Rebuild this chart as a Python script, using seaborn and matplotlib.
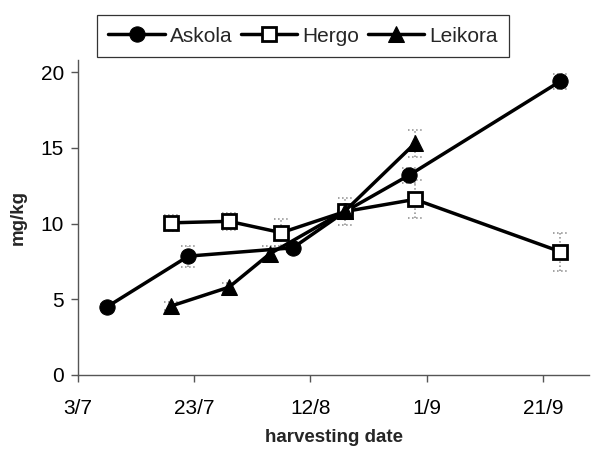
import matplotlib
matplotlib.use("Agg")
import matplotlib.pyplot as plt
import seaborn as sns
import pandas as pd

sns.set_theme(style="white")
plt.rcParams["font.family"] = ["Liberation Sans", "DejaVu Sans"]

# Harvest dates and contents (mg/kg) for the three varieties
askola_dates = ["2001-07-08", "2001-07-22", "2001-08-09", "2001-08-18", "2001-08-29", "2001-09-24"]
askola_vals = [4.5, 7.85, 8.4, 10.8, 13.2, 19.4]
askola_err = [0.2, 0.7, 0.3, 0.4, 0.5, 0.5]

hergo_dates = ["2001-07-19", "2001-07-29", "2001-08-07", "2001-08-18", "2001-08-30", "2001-09-24"]
hergo_vals = [10.05, 10.15, 9.4, 10.8, 11.6, 8.15]
hergo_err = [0.55, 0.55, 0.9, 0.9, 1.25, 1.25]

leikora_dates = ["2001-07-19", "2001-07-29", "2001-08-05", "2001-08-18", "2001-08-30"]
leikora_vals = [4.55, 5.8, 8.0, 10.85, 15.3]
leikora_err = [0.25, 0.3, 0.55, 0.4, 0.9]

tick_dates = ["2001-07-03", "2001-07-23", "2001-08-12", "2001-09-01", "2001-09-21"]

series = [
    ("Askola", askola_dates, askola_vals, askola_err,
     dict(marker="o", markersize=11, markerfacecolor="black")),
    ("Hergo", hergo_dates, hergo_vals, hergo_err,
     dict(marker="s", markersize=9.5, markerfacecolor="white", markeredgewidth=2.0)),
    ("Leikora", leikora_dates, leikora_vals, leikora_err,
     dict(marker="^", markersize=11, markerfacecolor="black")),
]

fig = plt.figure(figsize=(5.91, 4.49), dpi=100)
ax = fig.add_axes([0.132, 0.165, 0.865, 0.701])

cap_half = pd.Timedelta(hours=30)
for name, dates, vals, errs, mstyle in series:
    d = pd.to_datetime(dates)
    lo = [v - e for v, e in zip(vals, errs)]
    hi = [v + e for v, e in zip(vals, errs)]
    # dotted grey error bars with dotted caps
    ax.vlines(d, lo, hi, colors="#8a8a8a", linestyles=":", linewidth=1.1, zorder=1)
    ax.hlines(lo + hi, list(d - cap_half) * 2, list(d + cap_half) * 2,
              colors="#8a8a8a", linestyles=":", linewidth=1.1, zorder=1)
    df = pd.DataFrame({"date": d, "value": vals})
    sns.lineplot(data=df, x="date", y="value", ax=ax, color="black",
                 linewidth=2.5, markeredgecolor="black", label=name,
                 zorder=3, **mstyle)

x0 = pd.Timestamp(tick_dates[0])
ax.set_xlim(x0, x0 + pd.Timedelta(days=88))
ax.set_ylim(0, 20.8)
ticks = pd.to_datetime(tick_dates)
ax.set_xticks(ticks)
ax.set_xticklabels([f"{t.day}/{t.month}" for t in ticks])
ax.set_yticks([0, 5, 10, 15, 20])

for side in ["top", "right"]:
    ax.spines[side].set_visible(False)
for side in ["left", "bottom"]:
    ax.spines[side].set_color("#555555")
    ax.spines[side].set_linewidth(1.0)

ax.tick_params(axis="both", which="major", direction="out", length=5,
               width=1.0, color="#555555", labelsize=15, labelcolor="black",
               left=True, bottom=True)
ax.tick_params(axis="x", pad=12)
ax.tick_params(axis="y", pad=5)

ax.set_xlabel("harvesting date", fontsize=13.5, fontweight="bold", labelpad=8)
ax.set_ylabel("mg/kg", fontsize=13.5, fontweight="bold", labelpad=10)

ax.get_legend().remove()
handles, labels = ax.get_legend_handles_labels()
leg = fig.legend(handles, labels, loc="lower left",
                 bbox_to_anchor=(97 / 591, 1 - 57 / 449), ncol=3,
                 frameon=True, fancybox=False, shadow=False,
                 fontsize=15, handlelength=2.7, handletextpad=0.25,
                 columnspacing=0.4, borderpad=0.55, borderaxespad=0)
leg.get_frame().set_edgecolor("black")
leg.get_frame().set_linewidth(0.9)

fig.savefig("out.png", dpi=100)
